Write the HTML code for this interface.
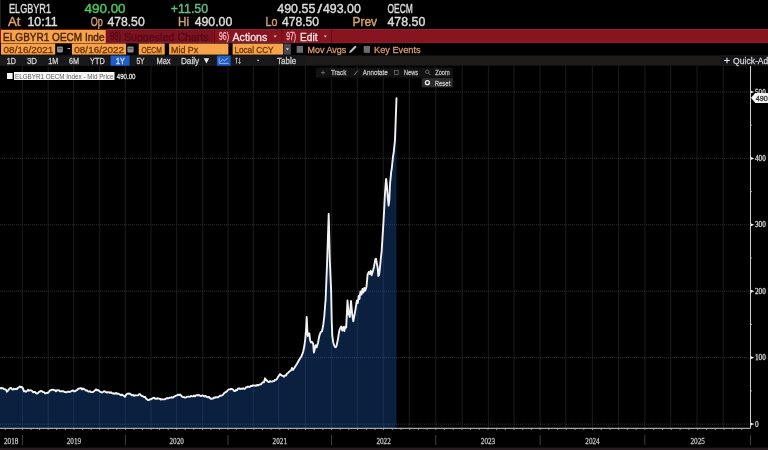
<!DOCTYPE html>
<html><head><meta charset="utf-8"><title>ELGBYR1 OECM Index</title>
<style>html,body{margin:0;padding:0;background:#000;width:768px;height:450px;overflow:hidden}svg{display:block}</style>
</head><body>
<svg width="768" height="450" viewBox="0 0 768 450">
<rect x="0" y="0" width="768" height="450" fill="#000"/>
<rect x="0" y="0" width="1" height="29" fill="#1e1e1e"/>
<text x="9.0" y="12.5" textLength="42.0" lengthAdjust="spacingAndGlyphs" fill="#dcdcdc" font-size="12.2" font-family="&quot;Liberation Sans&quot;, Arial, sans-serif" font-weight="normal" stroke="#dcdcdc" stroke-width="0.4">ELGBYR1</text>
<text x="84.5" y="12.5" textLength="41.1" lengthAdjust="spacingAndGlyphs" fill="#4cc85c" font-size="12.2" font-family="&quot;Liberation Sans&quot;, Arial, sans-serif" font-weight="normal" stroke="#4cc85c" stroke-width="0.4">490.00</text>
<text x="170.7" y="12.5" textLength="37.5" lengthAdjust="spacingAndGlyphs" fill="#5fbd7f" font-size="12.2" font-family="&quot;Liberation Sans&quot;, Arial, sans-serif" font-weight="normal" stroke="#5fbd7f" stroke-width="0.4">+11.50</text>
<text x="277.3" y="12.5" textLength="38.0" lengthAdjust="spacingAndGlyphs" fill="#dcdcdc" font-size="12.2" font-family="&quot;Liberation Sans&quot;, Arial, sans-serif" font-weight="normal" stroke="#dcdcdc" stroke-width="0.4">490.55</text>
<text x="317.4" y="12.5" textLength="4.6" lengthAdjust="spacingAndGlyphs" fill="#dcdcdc" font-size="12.2" font-family="&quot;Liberation Sans&quot;, Arial, sans-serif" font-weight="normal" stroke="#dcdcdc" stroke-width="0.4">/</text>
<text x="323.0" y="12.5" textLength="37.8" lengthAdjust="spacingAndGlyphs" fill="#dcdcdc" font-size="12.2" font-family="&quot;Liberation Sans&quot;, Arial, sans-serif" font-weight="normal" stroke="#dcdcdc" stroke-width="0.4">493.00</text>
<text x="387.5" y="12.5" textLength="25.4" lengthAdjust="spacingAndGlyphs" fill="#dcdcdc" font-size="12.2" font-family="&quot;Liberation Sans&quot;, Arial, sans-serif" font-weight="normal" stroke="#dcdcdc" stroke-width="0.4">OECM</text>
<text x="7.9" y="26.0" textLength="12.5" lengthAdjust="spacingAndGlyphs" fill="#d6a173" font-size="12.2" font-family="&quot;Liberation Sans&quot;, Arial, sans-serif" font-weight="normal" stroke="#d6a173" stroke-width="0.4">At</text>
<text x="27.5" y="26.0" textLength="30.0" lengthAdjust="spacingAndGlyphs" fill="#dcdcdc" font-size="12.2" font-family="&quot;Liberation Sans&quot;, Arial, sans-serif" font-weight="normal" stroke="#dcdcdc" stroke-width="0.4">10:11</text>
<text x="90.7" y="26.0" textLength="12.0" lengthAdjust="spacingAndGlyphs" fill="#d6a173" font-size="12.2" font-family="&quot;Liberation Sans&quot;, Arial, sans-serif" font-weight="normal" stroke="#d6a173" stroke-width="0.4">Op</text>
<text x="107.4" y="26.0" textLength="37.3" lengthAdjust="spacingAndGlyphs" fill="#dcdcdc" font-size="12.2" font-family="&quot;Liberation Sans&quot;, Arial, sans-serif" font-weight="normal" stroke="#dcdcdc" stroke-width="0.4">478.50</text>
<text x="178.0" y="26.0" textLength="11.0" lengthAdjust="spacingAndGlyphs" fill="#d6a173" font-size="12.2" font-family="&quot;Liberation Sans&quot;, Arial, sans-serif" font-weight="normal" stroke="#d6a173" stroke-width="0.4">Hi</text>
<text x="194.7" y="26.0" textLength="37.6" lengthAdjust="spacingAndGlyphs" fill="#dcdcdc" font-size="12.2" font-family="&quot;Liberation Sans&quot;, Arial, sans-serif" font-weight="normal" stroke="#dcdcdc" stroke-width="0.4">490.00</text>
<text x="265.6" y="26.0" textLength="11.9" lengthAdjust="spacingAndGlyphs" fill="#d6a173" font-size="12.2" font-family="&quot;Liberation Sans&quot;, Arial, sans-serif" font-weight="normal" stroke="#d6a173" stroke-width="0.4">Lo</text>
<text x="282.0" y="26.0" textLength="37.0" lengthAdjust="spacingAndGlyphs" fill="#dcdcdc" font-size="12.2" font-family="&quot;Liberation Sans&quot;, Arial, sans-serif" font-weight="normal" stroke="#dcdcdc" stroke-width="0.4">478.50</text>
<text x="352.4" y="26.0" textLength="24.7" lengthAdjust="spacingAndGlyphs" fill="#d6a173" font-size="12.2" font-family="&quot;Liberation Sans&quot;, Arial, sans-serif" font-weight="normal" stroke="#d6a173" stroke-width="0.4">Prev</text>
<text x="387.5" y="26.0" textLength="37.8" lengthAdjust="spacingAndGlyphs" fill="#dcdcdc" font-size="12.2" font-family="&quot;Liberation Sans&quot;, Arial, sans-serif" font-weight="normal" stroke="#dcdcdc" stroke-width="0.4">478.50</text>
<rect x="0" y="29.1" width="768" height="14.1" fill="#88141f"/>
<rect x="1" y="30" width="104.8" height="13.2" fill="#f6a44b"/>
<text x="3.1" y="40.6" textLength="101.4" lengthAdjust="spacingAndGlyphs" fill="#4e2204" font-size="11.6" font-family="&quot;Liberation Sans&quot;, Arial, sans-serif" font-weight="normal" stroke="#4e2204" stroke-width="0.45">ELGBYR1 OECM Inde</text>
<rect x="106.2" y="29.8" width="106" height="13.2" fill="#7c1320" stroke="#6a0e18" stroke-width="0.6"/>
<text x="110.0" y="40.4" textLength="11.0" lengthAdjust="spacingAndGlyphs" fill="#5a0a15" font-size="10" font-family="&quot;Liberation Sans&quot;, Arial, sans-serif" font-weight="normal" stroke="#5a0a15" stroke-width="0.45">98)</text>
<text x="124.0" y="40.6" textLength="84.5" lengthAdjust="spacingAndGlyphs" fill="#5a0a15" font-size="11.6" font-family="&quot;Liberation Sans&quot;, Arial, sans-serif" font-weight="normal" stroke="#5a0a15" stroke-width="0.45">Suggested Charts</text>
<rect x="106" y="41.8" width="662" height="1.1" fill="#7e2434"/>
<rect x="106" y="29.1" width="662" height="0.8" fill="#93283a"/>
<rect x="214" y="29.1" width="0.8" height="14.1" fill="#5a0c14"/>
<text x="219.0" y="40.2" textLength="10.0" lengthAdjust="spacingAndGlyphs" fill="#f2b8c0" font-size="10" font-family="&quot;Liberation Sans&quot;, Arial, sans-serif" font-weight="normal" stroke="#f2b8c0" stroke-width="0.3">96)</text>
<text x="232.5" y="40.6" textLength="34.8" lengthAdjust="spacingAndGlyphs" fill="#f6e6e8" font-size="11.6" font-family="&quot;Liberation Sans&quot;, Arial, sans-serif" font-weight="normal" stroke="#f6e6e8" stroke-width="0.3">Actions</text>
<path d="M273.6 35.4 L276.6 35.4 L275.1 37.4 Z" fill="#f0d0d4"/>
<rect x="281.5" y="29.1" width="0.8" height="14.1" fill="#5a0c14"/>
<text x="286.2" y="40.2" textLength="9.8" lengthAdjust="spacingAndGlyphs" fill="#f2b8c0" font-size="10" font-family="&quot;Liberation Sans&quot;, Arial, sans-serif" font-weight="normal" stroke="#f2b8c0" stroke-width="0.3">97)</text>
<text x="300.0" y="40.6" textLength="17.5" lengthAdjust="spacingAndGlyphs" fill="#f6e6e8" font-size="11.6" font-family="&quot;Liberation Sans&quot;, Arial, sans-serif" font-weight="normal" stroke="#f6e6e8" stroke-width="0.3">Edit</text>
<path d="M323.8 35.4 L326.8 35.4 L325.3 37.4 Z" fill="#f0d0d4"/>
<rect x="331" y="29.1" width="0.8" height="14.1" fill="#5a0c14"/>
<rect x="1" y="43.6" width="54.2" height="11" fill="#f6a44b"/>
<text x="3.6" y="52.8" textLength="49.7" lengthAdjust="spacingAndGlyphs" fill="#6e3300" font-size="9.4" font-family="&quot;Liberation Sans&quot;, Arial, sans-serif" font-weight="normal" stroke="#6e3300" stroke-width="0.3">08/16/2021</text>
<rect x="57" y="46.6" width="5.9" height="5.8" rx="0.8" fill="#8c8c90"/><rect x="58" y="48.4" width="3.9" height="0.8" fill="#333"/>
<text x="67.5" y="51.2" textLength="2.7" lengthAdjust="spacingAndGlyphs" fill="#cfcfcf" font-size="9.4" font-family="&quot;Liberation Sans&quot;, Arial, sans-serif" font-weight="normal" stroke="#cfcfcf" stroke-width="0.3">-</text>
<rect x="71.9" y="43.6" width="54.2" height="11" fill="#f6a44b"/>
<text x="74.3" y="52.8" textLength="49.8" lengthAdjust="spacingAndGlyphs" fill="#6e3300" font-size="9.4" font-family="&quot;Liberation Sans&quot;, Arial, sans-serif" font-weight="normal" stroke="#6e3300" stroke-width="0.3">08/16/2022</text>
<rect x="127.4" y="46.6" width="6.2" height="5.8" rx="0.8" fill="#8c8c90"/><rect x="128.4" y="48.4" width="4.2" height="0.8" fill="#333"/>
<rect x="138.7" y="43.6" width="26.0" height="11" fill="#f6a44b"/>
<text x="141.5" y="52.8" textLength="20.3" lengthAdjust="spacingAndGlyphs" fill="#6e3300" font-size="9.4" font-family="&quot;Liberation Sans&quot;, Arial, sans-serif" font-weight="normal" stroke="#6e3300" stroke-width="0.3">OECM</text>
<rect x="169.1" y="43.6" width="59.3" height="11" fill="#f6a44b"/>
<text x="171.0" y="52.8" textLength="27.3" lengthAdjust="spacingAndGlyphs" fill="#6e3300" font-size="9.4" font-family="&quot;Liberation Sans&quot;, Arial, sans-serif" font-weight="normal" stroke="#6e3300" stroke-width="0.3">Mid Px</text>
<rect x="232.6" y="43.6" width="50.6" height="11" fill="#f6a44b"/>
<text x="234.4" y="52.8" textLength="39.2" lengthAdjust="spacingAndGlyphs" fill="#6e3300" font-size="9.4" font-family="&quot;Liberation Sans&quot;, Arial, sans-serif" font-weight="normal" stroke="#6e3300" stroke-width="0.3">Local CCY</text>
<rect x="284" y="43.6" width="6.9" height="11" fill="#4a4a4e"/><path d="M285.9 48.2 L289 48.2 L287.45 50.3 Z" fill="#e0e0e0"/>
<rect x="296.7" y="45.9" width="6.3" height="6.9" fill="#6c6c70"/>
<text x="307.6" y="52.8" textLength="38.7" lengthAdjust="spacingAndGlyphs" fill="#de9a6c" font-size="9.4" font-family="&quot;Liberation Sans&quot;, Arial, sans-serif" font-weight="normal" stroke="#de9a6c" stroke-width="0.3">Mov Avgs</text>
<path d="M349 53.2 L350 50.8 L355.2 45.6 L356.6 47 L351.4 52.2 Z" fill="#c4c4c4"/>
<rect x="363.7" y="45.9" width="6.3" height="6.9" fill="#6c6c70"/>
<text x="374.1" y="52.8" textLength="46.5" lengthAdjust="spacingAndGlyphs" fill="#de9a6c" font-size="9.4" font-family="&quot;Liberation Sans&quot;, Arial, sans-serif" font-weight="normal" stroke="#de9a6c" stroke-width="0.3">Key Events</text>
<rect x="0" y="55.5" width="768" height="10.1" fill="#1e1c1b"/>
<rect x="0" y="55.5" width="306" height="10.1" fill="#19191b"/>
<text x="6.8" y="63.9" textLength="9.2" lengthAdjust="spacingAndGlyphs" fill="#cfcfd2" font-size="8.6" font-family="&quot;Liberation Sans&quot;, Arial, sans-serif" font-weight="normal" stroke="#cfcfd2" stroke-width="0.3">1D</text>
<text x="26.9" y="63.9" textLength="10.0" lengthAdjust="spacingAndGlyphs" fill="#cfcfd2" font-size="8.6" font-family="&quot;Liberation Sans&quot;, Arial, sans-serif" font-weight="normal" stroke="#cfcfd2" stroke-width="0.3">3D</text>
<text x="48.3" y="63.9" textLength="10.0" lengthAdjust="spacingAndGlyphs" fill="#cfcfd2" font-size="8.6" font-family="&quot;Liberation Sans&quot;, Arial, sans-serif" font-weight="normal" stroke="#cfcfd2" stroke-width="0.3">1M</text>
<text x="69.1" y="63.9" textLength="10.0" lengthAdjust="spacingAndGlyphs" fill="#cfcfd2" font-size="8.6" font-family="&quot;Liberation Sans&quot;, Arial, sans-serif" font-weight="normal" stroke="#cfcfd2" stroke-width="0.3">6M</text>
<text x="90.1" y="63.9" textLength="14.6" lengthAdjust="spacingAndGlyphs" fill="#cfcfd2" font-size="8.6" font-family="&quot;Liberation Sans&quot;, Arial, sans-serif" font-weight="normal" stroke="#cfcfd2" stroke-width="0.3">YTD</text>
<rect x="110.6" y="55.6" width="19" height="10.1" fill="#1f5cc6"/>
<text x="116.0" y="63.9" textLength="8.7" lengthAdjust="spacingAndGlyphs" fill="#d8e6ff" font-size="8.6" font-family="&quot;Liberation Sans&quot;, Arial, sans-serif" font-weight="normal" stroke="#d8e6ff" stroke-width="0.3">1Y</text>
<text x="136.4" y="63.9" textLength="8.2" lengthAdjust="spacingAndGlyphs" fill="#cfcfd2" font-size="8.6" font-family="&quot;Liberation Sans&quot;, Arial, sans-serif" font-weight="normal" stroke="#cfcfd2" stroke-width="0.3">5Y</text>
<text x="156.4" y="63.9" textLength="14.2" lengthAdjust="spacingAndGlyphs" fill="#cfcfd2" font-size="8.6" font-family="&quot;Liberation Sans&quot;, Arial, sans-serif" font-weight="normal" stroke="#cfcfd2" stroke-width="0.3">Max</text>
<text x="180.9" y="63.9" textLength="18.3" lengthAdjust="spacingAndGlyphs" fill="#cfcfd2" font-size="8.6" font-family="&quot;Liberation Sans&quot;, Arial, sans-serif" font-weight="normal" stroke="#cfcfd2" stroke-width="0.3">Daily</text>
<path d="M203.7 58.3 L209.2 58.3 L206.45 63.4 Z" fill="#e8e8e8"/>
<rect x="216.9" y="55.6" width="13.7" height="10.1" fill="#1f5cc6"/>
<path d="M219.2 57.6 L219.2 63.4 L228.6 63.4" fill="none" stroke="#a9c8ff" stroke-width="0.8"/><path d="M220.3 62 L222.6 59.4 L224.6 61 L227.8 57.8" fill="none" stroke="#a9c8ff" stroke-width="0.9"/>
<path d="M236.5 57.8 L236.5 63.6 M235.2 59.2 L236.5 57.8 L237.8 59.2 M239.6 57.8 L239.6 63.6 M238.3 62.2 L239.6 63.6 L240.9 62.2" fill="none" stroke="#c8c8cc" stroke-width="0.8"/>
<path d="M256.8 59.8 L259.4 59.8 L258.1 61.4 Z" fill="#d0d0d0"/>
<text x="277.1" y="63.9" textLength="19.2" lengthAdjust="spacingAndGlyphs" fill="#cfcfd2" font-size="8.6" font-family="&quot;Liberation Sans&quot;, Arial, sans-serif" font-weight="normal" stroke="#cfcfd2" stroke-width="0.3">Table</text>
<rect x="720" y="55.5" width="48" height="10.1" fill="#17171a"/>
<path d="M724.2 60.5 L729.8 60.5 M727 57.7 L727 63.3" stroke="#e6e6e6" stroke-width="1.1"/>
<text x="733.1" y="63.9" textLength="39.9" lengthAdjust="spacingAndGlyphs" fill="#cfcfd2" font-size="8.6" font-family="&quot;Liberation Sans&quot;, Arial, sans-serif" font-weight="normal" stroke="#cfcfd2" stroke-width="0.3">Quick-Add</text>
<line x1="22.4" y1="66" x2="22.4" y2="428.3" stroke="#171717" stroke-width="1.2"/>
<line x1="48.2" y1="66" x2="48.2" y2="428.3" stroke="#171717" stroke-width="1.2"/>
<line x1="73.6" y1="66" x2="73.6" y2="428.3" stroke="#171717" stroke-width="1.2"/>
<line x1="99.5" y1="66" x2="99.5" y2="428.3" stroke="#171717" stroke-width="1.2"/>
<line x1="125.4" y1="66" x2="125.4" y2="428.3" stroke="#171717" stroke-width="1.2"/>
<line x1="151" y1="66" x2="151" y2="428.3" stroke="#171717" stroke-width="1.2"/>
<line x1="176.6" y1="66" x2="176.6" y2="428.3" stroke="#171717" stroke-width="1.2"/>
<line x1="202.6" y1="66" x2="202.6" y2="428.3" stroke="#171717" stroke-width="1.2"/>
<line x1="228" y1="66" x2="228" y2="428.3" stroke="#171717" stroke-width="1.2"/>
<line x1="253.4" y1="66" x2="253.4" y2="428.3" stroke="#171717" stroke-width="1.2"/>
<line x1="278.8" y1="66" x2="278.8" y2="428.3" stroke="#171717" stroke-width="1.2"/>
<line x1="305.5" y1="66" x2="305.5" y2="428.3" stroke="#171717" stroke-width="1.2"/>
<line x1="331.5" y1="66" x2="331.5" y2="428.3" stroke="#171717" stroke-width="1.2"/>
<line x1="357.3" y1="66" x2="357.3" y2="428.3" stroke="#171717" stroke-width="1.2"/>
<line x1="383.3" y1="66" x2="383.3" y2="428.3" stroke="#171717" stroke-width="1.2"/>
<line x1="409.4" y1="66" x2="409.4" y2="428.3" stroke="#171717" stroke-width="1.2"/>
<line x1="435.8" y1="66" x2="435.8" y2="428.3" stroke="#171717" stroke-width="1.2"/>
<line x1="462.2" y1="66" x2="462.2" y2="428.3" stroke="#171717" stroke-width="1.2"/>
<line x1="488.5" y1="66" x2="488.5" y2="428.3" stroke="#171717" stroke-width="1.2"/>
<line x1="514.1" y1="66" x2="514.1" y2="428.3" stroke="#171717" stroke-width="1.2"/>
<line x1="540.1" y1="66" x2="540.1" y2="428.3" stroke="#171717" stroke-width="1.2"/>
<line x1="565.8" y1="66" x2="565.8" y2="428.3" stroke="#171717" stroke-width="1.2"/>
<line x1="592.4" y1="66" x2="592.4" y2="428.3" stroke="#171717" stroke-width="1.2"/>
<line x1="618.5" y1="66" x2="618.5" y2="428.3" stroke="#171717" stroke-width="1.2"/>
<line x1="644.9" y1="66" x2="644.9" y2="428.3" stroke="#171717" stroke-width="1.2"/>
<line x1="670.6" y1="66" x2="670.6" y2="428.3" stroke="#171717" stroke-width="1.2"/>
<line x1="697" y1="66" x2="697" y2="428.3" stroke="#171717" stroke-width="1.2"/>
<line x1="723.2" y1="66" x2="723.2" y2="428.3" stroke="#171717" stroke-width="1.2"/>
<line x1="0" y1="92.0" x2="750.5" y2="92.0" stroke="#303030" stroke-width="1" stroke-dasharray="1 1"/>
<line x1="0" y1="158.4" x2="750.5" y2="158.4" stroke="#303030" stroke-width="1" stroke-dasharray="1 1"/>
<line x1="0" y1="224.8" x2="750.5" y2="224.8" stroke="#303030" stroke-width="1" stroke-dasharray="1 1"/>
<line x1="0" y1="291.2" x2="750.5" y2="291.2" stroke="#303030" stroke-width="1" stroke-dasharray="1 1"/>
<line x1="0" y1="357.7" x2="750.5" y2="357.7" stroke="#303030" stroke-width="1" stroke-dasharray="1 1"/>
<line x1="0" y1="424.1" x2="750.5" y2="424.1" stroke="#303030" stroke-width="1" stroke-dasharray="1 1"/>
<polygon points="0,428.3 0.0,388.2 1.0,388.0 2.0,388.3 3.0,388.1 4.0,389.1 5.0,389.2 6.0,389.8 7.0,391.7 8.0,390.6 9.0,389.2 10.0,388.2 11.0,388.0 12.0,389.1 13.0,389.6 14.0,388.8 15.0,389.3 16.0,388.7 17.0,389.2 18.0,387.7 19.0,387.3 20.0,386.5 21.0,387.2 22.0,387.0 23.0,388.6 24.0,391.3 25.0,391.1 26.0,391.7 27.0,390.9 28.0,389.8 29.0,390.7 30.0,390.3 31.0,390.4 32.0,390.8 33.0,392.2 34.0,392.0 35.0,391.9 36.0,393.2 37.0,393.6 38.0,393.0 39.0,391.8 40.0,391.3 41.0,391.0 42.0,391.2 43.0,392.0 44.0,392.1 45.0,393.3 46.0,393.3 47.0,392.7 48.0,393.0 49.0,391.8 50.0,390.4 51.0,390.3 52.0,389.7 53.0,389.6 54.0,390.2 55.0,390.1 56.0,391.3 57.0,390.2 58.0,390.4 59.0,390.3 60.0,391.3 61.0,391.3 62.0,391.3 63.0,391.2 64.0,391.6 65.0,392.1 66.0,392.3 67.0,392.0 68.0,391.6 69.0,391.7 70.0,391.8 71.0,391.3 72.0,390.7 73.0,390.5 74.0,391.2 75.0,391.3 76.0,390.5 77.0,390.2 78.0,388.8 79.0,388.8 80.0,388.2 81.0,388.1 82.0,389.4 83.0,388.4 84.0,389.2 85.0,389.6 86.0,390.6 87.0,390.3 88.0,391.3 89.0,391.6 90.0,391.1 91.0,392.1 92.0,392.1 93.0,392.0 94.0,391.3 95.0,390.4 96.0,389.3 97.0,390.4 98.0,390.0 99.0,390.8 100.0,391.7 101.0,392.1 102.0,392.5 103.0,392.0 104.0,391.3 105.0,391.4 106.0,392.2 107.0,392.6 108.0,392.1 109.0,392.3 110.0,392.9 111.0,392.3 112.0,393.2 113.0,393.5 114.0,393.3 115.0,393.8 116.0,393.0 117.0,393.9 118.0,393.5 119.0,394.0 120.0,394.6 121.0,395.2 122.0,394.5 123.0,395.4 124.0,395.8 125.0,396.8 126.0,394.8 127.0,393.8 128.0,393.8 129.0,393.5 130.0,393.7 131.0,394.6 132.0,395.4 133.0,394.8 134.0,395.8 135.0,395.3 136.0,395.4 137.0,395.4 138.0,395.4 139.0,394.3 140.0,394.2 141.0,395.4 142.0,396.0 143.0,396.3 144.0,397.1 145.0,396.8 146.0,398.5 147.0,399.2 148.0,400.1 149.0,400.0 150.0,399.3 151.0,399.2 152.0,398.6 153.0,398.0 154.0,397.7 155.0,398.5 156.0,398.9 157.0,398.5 158.0,398.3 159.0,398.6 160.0,398.9 161.0,399.6 162.0,399.1 163.0,399.4 164.0,399.4 165.0,399.2 166.0,398.6 167.0,398.0 168.0,398.5 169.0,398.0 170.0,397.6 171.0,397.5 172.0,397.3 173.0,397.6 174.0,396.8 175.0,396.2 176.0,395.7 177.0,395.3 178.0,394.6 179.0,395.1 180.0,394.5 181.0,395.4 182.0,396.6 183.0,397.0 184.0,397.1 185.0,397.6 186.0,397.3 187.0,396.8 188.0,396.6 189.0,396.6 190.0,396.8 191.0,395.9 192.0,396.2 193.0,396.4 194.0,395.6 195.0,396.3 196.0,395.3 197.0,395.1 198.0,395.2 199.0,395.0 200.0,395.6 201.0,396.1 202.0,395.5 203.0,395.5 204.0,396.3 205.0,396.0 206.0,396.2 207.0,397.0 208.0,397.2 209.0,397.0 210.0,398.1 211.0,398.9 212.0,398.6 213.0,398.5 214.0,397.5 215.0,397.7 216.0,397.2 217.0,397.1 218.0,397.2 219.0,396.5 220.0,395.6 221.0,395.7 222.0,395.4 223.0,394.8 224.0,393.3 225.0,392.5 226.0,391.9 227.0,391.2 228.0,390.0 229.0,389.4 230.0,389.4 231.0,389.0 232.0,389.0 233.0,389.5 234.0,390.8 235.0,391.1 236.0,390.0 237.0,390.3 238.0,388.6 239.0,388.3 240.0,389.1 241.0,388.7 242.0,388.8 243.0,388.3 244.0,388.9 245.0,388.8 246.0,387.3 247.0,387.3 248.0,386.5 249.0,387.0 250.0,386.6 251.0,385.9 252.0,386.1 253.0,385.3 254.0,385.6 255.0,385.5 256.0,385.7 257.0,384.9 258.0,385.5 259.0,384.8 260.0,384.4 261.0,384.3 262.0,383.0 263.0,382.3 264.0,382.2 265.0,378.3 266.0,379.9 267.0,380.6 268.0,381.7 269.0,382.1 270.0,381.1 271.0,381.6 272.0,381.6 273.0,381.1 274.0,381.0 275.0,380.0 276.0,379.8 277.0,378.9 278.0,376.8 279.0,375.6 280.0,374.1 281.0,374.9 282.0,375.6 283.0,375.9 284.0,376.7 285.0,375.4 286.0,375.5 287.0,373.5 288.0,373.0 289.0,371.8 290.0,371.0 291.0,370.5 292.0,368.0 293.0,369.9 294.6,367.5 297.0,363.7 299.2,359.8 301.6,355.9 303.1,352.0 304.4,345.8 305.4,338.0 306.2,327.1 306.7,317.0 307.3,330.2 307.8,336.0 308.6,334.0 309.3,333.3 310.1,340.0 310.9,342.5 312.1,341.9 313.2,344.0 313.9,352.5 314.8,349.0 315.6,345.3 316.7,347.3 318.0,342.7 319.3,336.0 320.7,332.0 322.0,331.3 323.3,324.7 324.3,316.0 325.0,306.7 325.6,300.0 327.1,262.8 328.7,213.9 329.8,260.0 331.1,290.0 331.7,320.0 332.3,336.0 333.3,342.7 334.7,346.7 335.7,347.3 336.7,345.3 338.0,338.7 339.3,330.7 340.0,328.7 341.2,326.5 342.2,330.5 343.3,327.0 344.3,331.0 345.3,326.5 346.2,327.5 347.5,300.5 348.5,313.3 349.8,316.9 351.0,301.0 352.1,313.3 353.3,321.3 355.1,311.6 356.9,300.5 357.8,303.0 358.7,296.0 359.5,299.0 360.4,291.5 361.5,294.5 362.5,289.0 363.4,292.5 364.4,288.0 365.3,290.5 366.5,286.7 367.6,274.7 368.7,272.0 369.7,274.0 370.7,270.7 371.6,275.3 372.7,272.0 374.0,266.7 375.3,259.3 376.0,258.7 376.7,262.7 377.7,268.0 378.3,276.0 379.1,274.7 379.6,270.7 380.7,260.0 381.7,250.7 382.5,237.6 383.4,223.3 384.1,210.9 385.0,193.1 385.7,183.3 386.1,178.9 386.8,184.2 387.7,196.7 388.6,205.6 389.3,200.2 390.0,184.2 390.7,177.1 391.2,171.8 391.8,168.3 392.3,163.3 393.0,156.7 393.7,152.5 394.3,146.7 395.0,140.0 395.7,120.0 396.5,98.3 396.5,428.3" fill="#0b1f3f"/>
<defs><clipPath id="fc"><polygon points="0,428.3 0.0,388.2 1.0,388.0 2.0,388.3 3.0,388.1 4.0,389.1 5.0,389.2 6.0,389.8 7.0,391.7 8.0,390.6 9.0,389.2 10.0,388.2 11.0,388.0 12.0,389.1 13.0,389.6 14.0,388.8 15.0,389.3 16.0,388.7 17.0,389.2 18.0,387.7 19.0,387.3 20.0,386.5 21.0,387.2 22.0,387.0 23.0,388.6 24.0,391.3 25.0,391.1 26.0,391.7 27.0,390.9 28.0,389.8 29.0,390.7 30.0,390.3 31.0,390.4 32.0,390.8 33.0,392.2 34.0,392.0 35.0,391.9 36.0,393.2 37.0,393.6 38.0,393.0 39.0,391.8 40.0,391.3 41.0,391.0 42.0,391.2 43.0,392.0 44.0,392.1 45.0,393.3 46.0,393.3 47.0,392.7 48.0,393.0 49.0,391.8 50.0,390.4 51.0,390.3 52.0,389.7 53.0,389.6 54.0,390.2 55.0,390.1 56.0,391.3 57.0,390.2 58.0,390.4 59.0,390.3 60.0,391.3 61.0,391.3 62.0,391.3 63.0,391.2 64.0,391.6 65.0,392.1 66.0,392.3 67.0,392.0 68.0,391.6 69.0,391.7 70.0,391.8 71.0,391.3 72.0,390.7 73.0,390.5 74.0,391.2 75.0,391.3 76.0,390.5 77.0,390.2 78.0,388.8 79.0,388.8 80.0,388.2 81.0,388.1 82.0,389.4 83.0,388.4 84.0,389.2 85.0,389.6 86.0,390.6 87.0,390.3 88.0,391.3 89.0,391.6 90.0,391.1 91.0,392.1 92.0,392.1 93.0,392.0 94.0,391.3 95.0,390.4 96.0,389.3 97.0,390.4 98.0,390.0 99.0,390.8 100.0,391.7 101.0,392.1 102.0,392.5 103.0,392.0 104.0,391.3 105.0,391.4 106.0,392.2 107.0,392.6 108.0,392.1 109.0,392.3 110.0,392.9 111.0,392.3 112.0,393.2 113.0,393.5 114.0,393.3 115.0,393.8 116.0,393.0 117.0,393.9 118.0,393.5 119.0,394.0 120.0,394.6 121.0,395.2 122.0,394.5 123.0,395.4 124.0,395.8 125.0,396.8 126.0,394.8 127.0,393.8 128.0,393.8 129.0,393.5 130.0,393.7 131.0,394.6 132.0,395.4 133.0,394.8 134.0,395.8 135.0,395.3 136.0,395.4 137.0,395.4 138.0,395.4 139.0,394.3 140.0,394.2 141.0,395.4 142.0,396.0 143.0,396.3 144.0,397.1 145.0,396.8 146.0,398.5 147.0,399.2 148.0,400.1 149.0,400.0 150.0,399.3 151.0,399.2 152.0,398.6 153.0,398.0 154.0,397.7 155.0,398.5 156.0,398.9 157.0,398.5 158.0,398.3 159.0,398.6 160.0,398.9 161.0,399.6 162.0,399.1 163.0,399.4 164.0,399.4 165.0,399.2 166.0,398.6 167.0,398.0 168.0,398.5 169.0,398.0 170.0,397.6 171.0,397.5 172.0,397.3 173.0,397.6 174.0,396.8 175.0,396.2 176.0,395.7 177.0,395.3 178.0,394.6 179.0,395.1 180.0,394.5 181.0,395.4 182.0,396.6 183.0,397.0 184.0,397.1 185.0,397.6 186.0,397.3 187.0,396.8 188.0,396.6 189.0,396.6 190.0,396.8 191.0,395.9 192.0,396.2 193.0,396.4 194.0,395.6 195.0,396.3 196.0,395.3 197.0,395.1 198.0,395.2 199.0,395.0 200.0,395.6 201.0,396.1 202.0,395.5 203.0,395.5 204.0,396.3 205.0,396.0 206.0,396.2 207.0,397.0 208.0,397.2 209.0,397.0 210.0,398.1 211.0,398.9 212.0,398.6 213.0,398.5 214.0,397.5 215.0,397.7 216.0,397.2 217.0,397.1 218.0,397.2 219.0,396.5 220.0,395.6 221.0,395.7 222.0,395.4 223.0,394.8 224.0,393.3 225.0,392.5 226.0,391.9 227.0,391.2 228.0,390.0 229.0,389.4 230.0,389.4 231.0,389.0 232.0,389.0 233.0,389.5 234.0,390.8 235.0,391.1 236.0,390.0 237.0,390.3 238.0,388.6 239.0,388.3 240.0,389.1 241.0,388.7 242.0,388.8 243.0,388.3 244.0,388.9 245.0,388.8 246.0,387.3 247.0,387.3 248.0,386.5 249.0,387.0 250.0,386.6 251.0,385.9 252.0,386.1 253.0,385.3 254.0,385.6 255.0,385.5 256.0,385.7 257.0,384.9 258.0,385.5 259.0,384.8 260.0,384.4 261.0,384.3 262.0,383.0 263.0,382.3 264.0,382.2 265.0,378.3 266.0,379.9 267.0,380.6 268.0,381.7 269.0,382.1 270.0,381.1 271.0,381.6 272.0,381.6 273.0,381.1 274.0,381.0 275.0,380.0 276.0,379.8 277.0,378.9 278.0,376.8 279.0,375.6 280.0,374.1 281.0,374.9 282.0,375.6 283.0,375.9 284.0,376.7 285.0,375.4 286.0,375.5 287.0,373.5 288.0,373.0 289.0,371.8 290.0,371.0 291.0,370.5 292.0,368.0 293.0,369.9 294.6,367.5 297.0,363.7 299.2,359.8 301.6,355.9 303.1,352.0 304.4,345.8 305.4,338.0 306.2,327.1 306.7,317.0 307.3,330.2 307.8,336.0 308.6,334.0 309.3,333.3 310.1,340.0 310.9,342.5 312.1,341.9 313.2,344.0 313.9,352.5 314.8,349.0 315.6,345.3 316.7,347.3 318.0,342.7 319.3,336.0 320.7,332.0 322.0,331.3 323.3,324.7 324.3,316.0 325.0,306.7 325.6,300.0 327.1,262.8 328.7,213.9 329.8,260.0 331.1,290.0 331.7,320.0 332.3,336.0 333.3,342.7 334.7,346.7 335.7,347.3 336.7,345.3 338.0,338.7 339.3,330.7 340.0,328.7 341.2,326.5 342.2,330.5 343.3,327.0 344.3,331.0 345.3,326.5 346.2,327.5 347.5,300.5 348.5,313.3 349.8,316.9 351.0,301.0 352.1,313.3 353.3,321.3 355.1,311.6 356.9,300.5 357.8,303.0 358.7,296.0 359.5,299.0 360.4,291.5 361.5,294.5 362.5,289.0 363.4,292.5 364.4,288.0 365.3,290.5 366.5,286.7 367.6,274.7 368.7,272.0 369.7,274.0 370.7,270.7 371.6,275.3 372.7,272.0 374.0,266.7 375.3,259.3 376.0,258.7 376.7,262.7 377.7,268.0 378.3,276.0 379.1,274.7 379.6,270.7 380.7,260.0 381.7,250.7 382.5,237.6 383.4,223.3 384.1,210.9 385.0,193.1 385.7,183.3 386.1,178.9 386.8,184.2 387.7,196.7 388.6,205.6 389.3,200.2 390.0,184.2 390.7,177.1 391.2,171.8 391.8,168.3 392.3,163.3 393.0,156.7 393.7,152.5 394.3,146.7 395.0,140.0 395.7,120.0 396.5,98.3 396.5,428.3"/></clipPath></defs>
<g clip-path="url(#fc)">
<line x1="22.4" y1="90" x2="22.4" y2="428.3" stroke="#18304f" stroke-width="1.1"/>
<line x1="48.2" y1="90" x2="48.2" y2="428.3" stroke="#18304f" stroke-width="1.1"/>
<line x1="73.6" y1="90" x2="73.6" y2="428.3" stroke="#18304f" stroke-width="1.1"/>
<line x1="99.5" y1="90" x2="99.5" y2="428.3" stroke="#18304f" stroke-width="1.1"/>
<line x1="125.4" y1="90" x2="125.4" y2="428.3" stroke="#18304f" stroke-width="1.1"/>
<line x1="151" y1="90" x2="151" y2="428.3" stroke="#18304f" stroke-width="1.1"/>
<line x1="176.6" y1="90" x2="176.6" y2="428.3" stroke="#18304f" stroke-width="1.1"/>
<line x1="202.6" y1="90" x2="202.6" y2="428.3" stroke="#18304f" stroke-width="1.1"/>
<line x1="228" y1="90" x2="228" y2="428.3" stroke="#18304f" stroke-width="1.1"/>
<line x1="253.4" y1="90" x2="253.4" y2="428.3" stroke="#18304f" stroke-width="1.1"/>
<line x1="278.8" y1="90" x2="278.8" y2="428.3" stroke="#18304f" stroke-width="1.1"/>
<line x1="305.5" y1="90" x2="305.5" y2="428.3" stroke="#18304f" stroke-width="1.1"/>
<line x1="331.5" y1="90" x2="331.5" y2="428.3" stroke="#18304f" stroke-width="1.1"/>
<line x1="357.3" y1="90" x2="357.3" y2="428.3" stroke="#18304f" stroke-width="1.1"/>
<line x1="383.3" y1="90" x2="383.3" y2="428.3" stroke="#18304f" stroke-width="1.1"/>
<line x1="0" y1="158.4" x2="750.5" y2="158.4" stroke="#2b4266" stroke-width="1" stroke-dasharray="1 1"/>
<line x1="0" y1="224.8" x2="750.5" y2="224.8" stroke="#2b4266" stroke-width="1" stroke-dasharray="1 1"/>
<line x1="0" y1="291.2" x2="750.5" y2="291.2" stroke="#2b4266" stroke-width="1" stroke-dasharray="1 1"/>
<line x1="0" y1="357.7" x2="750.5" y2="357.7" stroke="#2b4266" stroke-width="1" stroke-dasharray="1 1"/>
<line x1="0" y1="424.1" x2="750.5" y2="424.1" stroke="#2b4266" stroke-width="1" stroke-dasharray="1 1"/>
</g>
<polyline points="0.0,388.2 1.0,388.0 2.0,388.3 3.0,388.1 4.0,389.1 5.0,389.2 6.0,389.8 7.0,391.7 8.0,390.6 9.0,389.2 10.0,388.2 11.0,388.0 12.0,389.1 13.0,389.6 14.0,388.8 15.0,389.3 16.0,388.7 17.0,389.2 18.0,387.7 19.0,387.3 20.0,386.5 21.0,387.2 22.0,387.0 23.0,388.6 24.0,391.3 25.0,391.1 26.0,391.7 27.0,390.9 28.0,389.8 29.0,390.7 30.0,390.3 31.0,390.4 32.0,390.8 33.0,392.2 34.0,392.0 35.0,391.9 36.0,393.2 37.0,393.6 38.0,393.0 39.0,391.8 40.0,391.3 41.0,391.0 42.0,391.2 43.0,392.0 44.0,392.1 45.0,393.3 46.0,393.3 47.0,392.7 48.0,393.0 49.0,391.8 50.0,390.4 51.0,390.3 52.0,389.7 53.0,389.6 54.0,390.2 55.0,390.1 56.0,391.3 57.0,390.2 58.0,390.4 59.0,390.3 60.0,391.3 61.0,391.3 62.0,391.3 63.0,391.2 64.0,391.6 65.0,392.1 66.0,392.3 67.0,392.0 68.0,391.6 69.0,391.7 70.0,391.8 71.0,391.3 72.0,390.7 73.0,390.5 74.0,391.2 75.0,391.3 76.0,390.5 77.0,390.2 78.0,388.8 79.0,388.8 80.0,388.2 81.0,388.1 82.0,389.4 83.0,388.4 84.0,389.2 85.0,389.6 86.0,390.6 87.0,390.3 88.0,391.3 89.0,391.6 90.0,391.1 91.0,392.1 92.0,392.1 93.0,392.0 94.0,391.3 95.0,390.4 96.0,389.3 97.0,390.4 98.0,390.0 99.0,390.8 100.0,391.7 101.0,392.1 102.0,392.5 103.0,392.0 104.0,391.3 105.0,391.4 106.0,392.2 107.0,392.6 108.0,392.1 109.0,392.3 110.0,392.9 111.0,392.3 112.0,393.2 113.0,393.5 114.0,393.3 115.0,393.8 116.0,393.0 117.0,393.9 118.0,393.5 119.0,394.0 120.0,394.6 121.0,395.2 122.0,394.5 123.0,395.4 124.0,395.8 125.0,396.8 126.0,394.8 127.0,393.8 128.0,393.8 129.0,393.5 130.0,393.7 131.0,394.6 132.0,395.4 133.0,394.8 134.0,395.8 135.0,395.3 136.0,395.4 137.0,395.4 138.0,395.4 139.0,394.3 140.0,394.2 141.0,395.4 142.0,396.0 143.0,396.3 144.0,397.1 145.0,396.8 146.0,398.5 147.0,399.2 148.0,400.1 149.0,400.0 150.0,399.3 151.0,399.2 152.0,398.6 153.0,398.0 154.0,397.7 155.0,398.5 156.0,398.9 157.0,398.5 158.0,398.3 159.0,398.6 160.0,398.9 161.0,399.6 162.0,399.1 163.0,399.4 164.0,399.4 165.0,399.2 166.0,398.6 167.0,398.0 168.0,398.5 169.0,398.0 170.0,397.6 171.0,397.5 172.0,397.3 173.0,397.6 174.0,396.8 175.0,396.2 176.0,395.7 177.0,395.3 178.0,394.6 179.0,395.1 180.0,394.5 181.0,395.4 182.0,396.6 183.0,397.0 184.0,397.1 185.0,397.6 186.0,397.3 187.0,396.8 188.0,396.6 189.0,396.6 190.0,396.8 191.0,395.9 192.0,396.2 193.0,396.4 194.0,395.6 195.0,396.3 196.0,395.3 197.0,395.1 198.0,395.2 199.0,395.0 200.0,395.6 201.0,396.1 202.0,395.5 203.0,395.5 204.0,396.3 205.0,396.0 206.0,396.2 207.0,397.0 208.0,397.2 209.0,397.0 210.0,398.1 211.0,398.9 212.0,398.6 213.0,398.5 214.0,397.5 215.0,397.7 216.0,397.2 217.0,397.1 218.0,397.2 219.0,396.5 220.0,395.6 221.0,395.7 222.0,395.4 223.0,394.8 224.0,393.3 225.0,392.5 226.0,391.9 227.0,391.2 228.0,390.0 229.0,389.4 230.0,389.4 231.0,389.0 232.0,389.0 233.0,389.5 234.0,390.8 235.0,391.1 236.0,390.0 237.0,390.3 238.0,388.6 239.0,388.3 240.0,389.1 241.0,388.7 242.0,388.8 243.0,388.3 244.0,388.9 245.0,388.8 246.0,387.3 247.0,387.3 248.0,386.5 249.0,387.0 250.0,386.6 251.0,385.9 252.0,386.1 253.0,385.3 254.0,385.6 255.0,385.5 256.0,385.7 257.0,384.9 258.0,385.5 259.0,384.8 260.0,384.4 261.0,384.3 262.0,383.0 263.0,382.3 264.0,382.2 265.0,378.3 266.0,379.9 267.0,380.6 268.0,381.7 269.0,382.1 270.0,381.1 271.0,381.6 272.0,381.6 273.0,381.1 274.0,381.0 275.0,380.0 276.0,379.8 277.0,378.9 278.0,376.8 279.0,375.6 280.0,374.1 281.0,374.9 282.0,375.6 283.0,375.9 284.0,376.7 285.0,375.4 286.0,375.5 287.0,373.5 288.0,373.0 289.0,371.8 290.0,371.0 291.0,370.5 292.0,368.0 293.0,369.9 294.6,367.5 297.0,363.7 299.2,359.8 301.6,355.9 303.1,352.0 304.4,345.8 305.4,338.0 306.2,327.1 306.7,317.0 307.3,330.2 307.8,336.0 308.6,334.0 309.3,333.3 310.1,340.0 310.9,342.5 312.1,341.9 313.2,344.0 313.9,352.5 314.8,349.0 315.6,345.3 316.7,347.3 318.0,342.7 319.3,336.0 320.7,332.0 322.0,331.3 323.3,324.7 324.3,316.0 325.0,306.7 325.6,300.0 327.1,262.8 328.7,213.9 329.8,260.0 331.1,290.0 331.7,320.0 332.3,336.0 333.3,342.7 334.7,346.7 335.7,347.3 336.7,345.3 338.0,338.7 339.3,330.7 340.0,328.7 341.2,326.5 342.2,330.5 343.3,327.0 344.3,331.0 345.3,326.5 346.2,327.5 347.5,300.5 348.5,313.3 349.8,316.9 351.0,301.0 352.1,313.3 353.3,321.3 355.1,311.6 356.9,300.5 357.8,303.0 358.7,296.0 359.5,299.0 360.4,291.5 361.5,294.5 362.5,289.0 363.4,292.5 364.4,288.0 365.3,290.5 366.5,286.7 367.6,274.7 368.7,272.0 369.7,274.0 370.7,270.7 371.6,275.3 372.7,272.0 374.0,266.7 375.3,259.3 376.0,258.7 376.7,262.7 377.7,268.0 378.3,276.0 379.1,274.7 379.6,270.7 380.7,260.0 381.7,250.7 382.5,237.6 383.4,223.3 384.1,210.9 385.0,193.1 385.7,183.3 386.1,178.9 386.8,184.2 387.7,196.7 388.6,205.6 389.3,200.2 390.0,184.2 390.7,177.1 391.2,171.8 391.8,168.3 392.3,163.3 393.0,156.7 393.7,152.5 394.3,146.7 395.0,140.0 395.7,120.0 396.5,98.3" fill="none" stroke="#f2f2f2" stroke-width="1.9" stroke-linejoin="round" stroke-linecap="round"/>
<line x1="750.5" y1="66" x2="750.5" y2="428.3" stroke="#cfcfcf" stroke-width="1"/>
<line x1="0" y1="428.3" x2="750.5" y2="428.3" stroke="#cfcfcf" stroke-width="1"/>
<line x1="22.4" y1="428.3" x2="22.4" y2="429.90000000000003" stroke="#bdbdbd" stroke-width="0.8"/>
<line x1="31.0" y1="428.3" x2="31.0" y2="429.90000000000003" stroke="#bdbdbd" stroke-width="0.8"/>
<line x1="39.6" y1="428.3" x2="39.6" y2="429.90000000000003" stroke="#bdbdbd" stroke-width="0.8"/>
<line x1="48.1" y1="428.3" x2="48.1" y2="429.90000000000003" stroke="#bdbdbd" stroke-width="0.8"/>
<line x1="56.7" y1="428.3" x2="56.7" y2="429.90000000000003" stroke="#bdbdbd" stroke-width="0.8"/>
<line x1="65.3" y1="428.3" x2="65.3" y2="429.90000000000003" stroke="#bdbdbd" stroke-width="0.8"/>
<line x1="73.9" y1="428.3" x2="73.9" y2="429.90000000000003" stroke="#bdbdbd" stroke-width="0.8"/>
<line x1="82.5" y1="428.3" x2="82.5" y2="429.90000000000003" stroke="#bdbdbd" stroke-width="0.8"/>
<line x1="91.1" y1="428.3" x2="91.1" y2="429.90000000000003" stroke="#bdbdbd" stroke-width="0.8"/>
<line x1="99.7" y1="428.3" x2="99.7" y2="429.90000000000003" stroke="#bdbdbd" stroke-width="0.8"/>
<line x1="108.2" y1="428.3" x2="108.2" y2="429.90000000000003" stroke="#bdbdbd" stroke-width="0.8"/>
<line x1="116.8" y1="428.3" x2="116.8" y2="429.90000000000003" stroke="#bdbdbd" stroke-width="0.8"/>
<line x1="125.4" y1="428.3" x2="125.4" y2="429.90000000000003" stroke="#bdbdbd" stroke-width="0.8"/>
<line x1="134.0" y1="428.3" x2="134.0" y2="429.90000000000003" stroke="#bdbdbd" stroke-width="0.8"/>
<line x1="142.5" y1="428.3" x2="142.5" y2="429.90000000000003" stroke="#bdbdbd" stroke-width="0.8"/>
<line x1="151.1" y1="428.3" x2="151.1" y2="429.90000000000003" stroke="#bdbdbd" stroke-width="0.8"/>
<line x1="159.6" y1="428.3" x2="159.6" y2="429.90000000000003" stroke="#bdbdbd" stroke-width="0.8"/>
<line x1="168.2" y1="428.3" x2="168.2" y2="429.90000000000003" stroke="#bdbdbd" stroke-width="0.8"/>
<line x1="176.7" y1="428.3" x2="176.7" y2="429.90000000000003" stroke="#bdbdbd" stroke-width="0.8"/>
<line x1="185.2" y1="428.3" x2="185.2" y2="429.90000000000003" stroke="#bdbdbd" stroke-width="0.8"/>
<line x1="193.8" y1="428.3" x2="193.8" y2="429.90000000000003" stroke="#bdbdbd" stroke-width="0.8"/>
<line x1="202.4" y1="428.3" x2="202.4" y2="429.90000000000003" stroke="#bdbdbd" stroke-width="0.8"/>
<line x1="210.9" y1="428.3" x2="210.9" y2="429.90000000000003" stroke="#bdbdbd" stroke-width="0.8"/>
<line x1="219.4" y1="428.3" x2="219.4" y2="429.90000000000003" stroke="#bdbdbd" stroke-width="0.8"/>
<line x1="228.0" y1="428.3" x2="228.0" y2="429.90000000000003" stroke="#bdbdbd" stroke-width="0.8"/>
<line x1="236.6" y1="428.3" x2="236.6" y2="429.90000000000003" stroke="#bdbdbd" stroke-width="0.8"/>
<line x1="245.2" y1="428.3" x2="245.2" y2="429.90000000000003" stroke="#bdbdbd" stroke-width="0.8"/>
<line x1="253.9" y1="428.3" x2="253.9" y2="429.90000000000003" stroke="#bdbdbd" stroke-width="0.8"/>
<line x1="262.5" y1="428.3" x2="262.5" y2="429.90000000000003" stroke="#bdbdbd" stroke-width="0.8"/>
<line x1="271.1" y1="428.3" x2="271.1" y2="429.90000000000003" stroke="#bdbdbd" stroke-width="0.8"/>
<line x1="279.8" y1="428.3" x2="279.8" y2="429.90000000000003" stroke="#bdbdbd" stroke-width="0.8"/>
<line x1="288.4" y1="428.3" x2="288.4" y2="429.90000000000003" stroke="#bdbdbd" stroke-width="0.8"/>
<line x1="297.0" y1="428.3" x2="297.0" y2="429.90000000000003" stroke="#bdbdbd" stroke-width="0.8"/>
<line x1="305.6" y1="428.3" x2="305.6" y2="429.90000000000003" stroke="#bdbdbd" stroke-width="0.8"/>
<line x1="314.2" y1="428.3" x2="314.2" y2="429.90000000000003" stroke="#bdbdbd" stroke-width="0.8"/>
<line x1="322.9" y1="428.3" x2="322.9" y2="429.90000000000003" stroke="#bdbdbd" stroke-width="0.8"/>
<line x1="331.5" y1="428.3" x2="331.5" y2="429.90000000000003" stroke="#bdbdbd" stroke-width="0.8"/>
<line x1="340.2" y1="428.3" x2="340.2" y2="429.90000000000003" stroke="#bdbdbd" stroke-width="0.8"/>
<line x1="348.9" y1="428.3" x2="348.9" y2="429.90000000000003" stroke="#bdbdbd" stroke-width="0.8"/>
<line x1="357.6" y1="428.3" x2="357.6" y2="429.90000000000003" stroke="#bdbdbd" stroke-width="0.8"/>
<line x1="366.3" y1="428.3" x2="366.3" y2="429.90000000000003" stroke="#bdbdbd" stroke-width="0.8"/>
<line x1="375.0" y1="428.3" x2="375.0" y2="429.90000000000003" stroke="#bdbdbd" stroke-width="0.8"/>
<line x1="383.6" y1="428.3" x2="383.6" y2="429.90000000000003" stroke="#bdbdbd" stroke-width="0.8"/>
<line x1="392.3" y1="428.3" x2="392.3" y2="429.90000000000003" stroke="#bdbdbd" stroke-width="0.8"/>
<line x1="401.0" y1="428.3" x2="401.0" y2="429.90000000000003" stroke="#bdbdbd" stroke-width="0.8"/>
<line x1="409.7" y1="428.3" x2="409.7" y2="429.90000000000003" stroke="#bdbdbd" stroke-width="0.8"/>
<line x1="418.4" y1="428.3" x2="418.4" y2="429.90000000000003" stroke="#bdbdbd" stroke-width="0.8"/>
<line x1="427.1" y1="428.3" x2="427.1" y2="429.90000000000003" stroke="#bdbdbd" stroke-width="0.8"/>
<line x1="435.8" y1="428.3" x2="435.8" y2="429.90000000000003" stroke="#bdbdbd" stroke-width="0.8"/>
<line x1="444.5" y1="428.3" x2="444.5" y2="429.90000000000003" stroke="#bdbdbd" stroke-width="0.8"/>
<line x1="453.2" y1="428.3" x2="453.2" y2="429.90000000000003" stroke="#bdbdbd" stroke-width="0.8"/>
<line x1="461.9" y1="428.3" x2="461.9" y2="429.90000000000003" stroke="#bdbdbd" stroke-width="0.8"/>
<line x1="470.6" y1="428.3" x2="470.6" y2="429.90000000000003" stroke="#bdbdbd" stroke-width="0.8"/>
<line x1="479.3" y1="428.3" x2="479.3" y2="429.90000000000003" stroke="#bdbdbd" stroke-width="0.8"/>
<line x1="488.0" y1="428.3" x2="488.0" y2="429.90000000000003" stroke="#bdbdbd" stroke-width="0.8"/>
<line x1="496.6" y1="428.3" x2="496.6" y2="429.90000000000003" stroke="#bdbdbd" stroke-width="0.8"/>
<line x1="505.3" y1="428.3" x2="505.3" y2="429.90000000000003" stroke="#bdbdbd" stroke-width="0.8"/>
<line x1="514.0" y1="428.3" x2="514.0" y2="429.90000000000003" stroke="#bdbdbd" stroke-width="0.8"/>
<line x1="522.7" y1="428.3" x2="522.7" y2="429.90000000000003" stroke="#bdbdbd" stroke-width="0.8"/>
<line x1="531.4" y1="428.3" x2="531.4" y2="429.90000000000003" stroke="#bdbdbd" stroke-width="0.8"/>
<line x1="540.1" y1="428.3" x2="540.1" y2="429.90000000000003" stroke="#bdbdbd" stroke-width="0.8"/>
<line x1="548.8" y1="428.3" x2="548.8" y2="429.90000000000003" stroke="#bdbdbd" stroke-width="0.8"/>
<line x1="557.6" y1="428.3" x2="557.6" y2="429.90000000000003" stroke="#bdbdbd" stroke-width="0.8"/>
<line x1="566.3" y1="428.3" x2="566.3" y2="429.90000000000003" stroke="#bdbdbd" stroke-width="0.8"/>
<line x1="575.0" y1="428.3" x2="575.0" y2="429.90000000000003" stroke="#bdbdbd" stroke-width="0.8"/>
<line x1="583.8" y1="428.3" x2="583.8" y2="429.90000000000003" stroke="#bdbdbd" stroke-width="0.8"/>
<line x1="592.5" y1="428.3" x2="592.5" y2="429.90000000000003" stroke="#bdbdbd" stroke-width="0.8"/>
<line x1="601.2" y1="428.3" x2="601.2" y2="429.90000000000003" stroke="#bdbdbd" stroke-width="0.8"/>
<line x1="610.0" y1="428.3" x2="610.0" y2="429.90000000000003" stroke="#bdbdbd" stroke-width="0.8"/>
<line x1="618.7" y1="428.3" x2="618.7" y2="429.90000000000003" stroke="#bdbdbd" stroke-width="0.8"/>
<line x1="627.4" y1="428.3" x2="627.4" y2="429.90000000000003" stroke="#bdbdbd" stroke-width="0.8"/>
<line x1="636.2" y1="428.3" x2="636.2" y2="429.90000000000003" stroke="#bdbdbd" stroke-width="0.8"/>
<line x1="644.9" y1="428.3" x2="644.9" y2="429.90000000000003" stroke="#bdbdbd" stroke-width="0.8"/>
<line x1="653.7" y1="428.3" x2="653.7" y2="429.90000000000003" stroke="#bdbdbd" stroke-width="0.8"/>
<line x1="662.5" y1="428.3" x2="662.5" y2="429.90000000000003" stroke="#bdbdbd" stroke-width="0.8"/>
<line x1="671.3" y1="428.3" x2="671.3" y2="429.90000000000003" stroke="#bdbdbd" stroke-width="0.8"/>
<line x1="680.1" y1="428.3" x2="680.1" y2="429.90000000000003" stroke="#bdbdbd" stroke-width="0.8"/>
<line x1="688.9" y1="428.3" x2="688.9" y2="429.90000000000003" stroke="#bdbdbd" stroke-width="0.8"/>
<line x1="697.7" y1="428.3" x2="697.7" y2="429.90000000000003" stroke="#bdbdbd" stroke-width="0.8"/>
<line x1="706.5" y1="428.3" x2="706.5" y2="429.90000000000003" stroke="#bdbdbd" stroke-width="0.8"/>
<line x1="715.3" y1="428.3" x2="715.3" y2="429.90000000000003" stroke="#bdbdbd" stroke-width="0.8"/>
<line x1="724.1" y1="428.3" x2="724.1" y2="429.90000000000003" stroke="#bdbdbd" stroke-width="0.8"/>
<line x1="732.9" y1="428.3" x2="732.9" y2="429.90000000000003" stroke="#bdbdbd" stroke-width="0.8"/>
<line x1="741.7" y1="428.3" x2="741.7" y2="429.90000000000003" stroke="#bdbdbd" stroke-width="0.8"/>
<line x1="13.8" y1="428.3" x2="13.8" y2="429.90000000000003" stroke="#bdbdbd" stroke-width="0.8"/>
<line x1="5.2" y1="428.3" x2="5.2" y2="429.90000000000003" stroke="#bdbdbd" stroke-width="0.8"/>
<line x1="22.4" y1="435" x2="22.4" y2="445" stroke="#464646" stroke-width="0.9"/>
<line x1="125.4" y1="435" x2="125.4" y2="445" stroke="#464646" stroke-width="0.9"/>
<line x1="228" y1="435" x2="228" y2="445" stroke="#464646" stroke-width="0.9"/>
<line x1="331.5" y1="435" x2="331.5" y2="445" stroke="#464646" stroke-width="0.9"/>
<line x1="435.8" y1="435" x2="435.8" y2="445" stroke="#464646" stroke-width="0.9"/>
<line x1="540.1" y1="435" x2="540.1" y2="445" stroke="#464646" stroke-width="0.9"/>
<line x1="644.9" y1="435" x2="644.9" y2="445" stroke="#464646" stroke-width="0.9"/>
<line x1="750.5" y1="435" x2="750.5" y2="445" stroke="#464646" stroke-width="0.9"/>
<text x="4.0" y="443.8" textLength="14.4" lengthAdjust="spacingAndGlyphs" fill="#bdbdbd" font-size="8.2" font-family="&quot;Liberation Serif&quot;, serif" font-weight="normal" stroke="#bdbdbd" stroke-width="0.3">2018</text>
<text x="66.7" y="443.8" textLength="14.4" lengthAdjust="spacingAndGlyphs" fill="#bdbdbd" font-size="8.2" font-family="&quot;Liberation Serif&quot;, serif" font-weight="normal" stroke="#bdbdbd" stroke-width="0.3">2019</text>
<text x="169.5" y="443.8" textLength="14.4" lengthAdjust="spacingAndGlyphs" fill="#bdbdbd" font-size="8.2" font-family="&quot;Liberation Serif&quot;, serif" font-weight="normal" stroke="#bdbdbd" stroke-width="0.3">2020</text>
<text x="272.6" y="443.8" textLength="14.4" lengthAdjust="spacingAndGlyphs" fill="#bdbdbd" font-size="8.2" font-family="&quot;Liberation Serif&quot;, serif" font-weight="normal" stroke="#bdbdbd" stroke-width="0.3">2021</text>
<text x="376.4" y="443.8" textLength="14.4" lengthAdjust="spacingAndGlyphs" fill="#bdbdbd" font-size="8.2" font-family="&quot;Liberation Serif&quot;, serif" font-weight="normal" stroke="#bdbdbd" stroke-width="0.3">2022</text>
<text x="480.8" y="443.8" textLength="14.4" lengthAdjust="spacingAndGlyphs" fill="#bdbdbd" font-size="8.2" font-family="&quot;Liberation Serif&quot;, serif" font-weight="normal" stroke="#bdbdbd" stroke-width="0.3">2023</text>
<text x="585.3" y="443.8" textLength="14.4" lengthAdjust="spacingAndGlyphs" fill="#bdbdbd" font-size="8.2" font-family="&quot;Liberation Serif&quot;, serif" font-weight="normal" stroke="#bdbdbd" stroke-width="0.3">2024</text>
<text x="690.5" y="443.8" textLength="14.4" lengthAdjust="spacingAndGlyphs" fill="#bdbdbd" font-size="8.2" font-family="&quot;Liberation Serif&quot;, serif" font-weight="normal" stroke="#bdbdbd" stroke-width="0.3">2025</text>
<path d="M750.5 156.8 L754.3 158.4 L750.5 160.0 Z" fill="#e8e8e8"/>
<text x="755.0" y="161.0" textLength="10.8" lengthAdjust="spacingAndGlyphs" fill="#d0d0d0" font-size="7.6" font-family="&quot;Liberation Serif&quot;, serif" font-weight="normal" stroke="#d0d0d0" stroke-width="0.3">400</text>
<path d="M750.5 223.2 L754.3 224.8 L750.5 226.4 Z" fill="#e8e8e8"/>
<text x="755.0" y="227.4" textLength="10.8" lengthAdjust="spacingAndGlyphs" fill="#d0d0d0" font-size="7.6" font-family="&quot;Liberation Serif&quot;, serif" font-weight="normal" stroke="#d0d0d0" stroke-width="0.3">300</text>
<path d="M750.5 289.6 L754.3 291.2 L750.5 292.9 Z" fill="#e8e8e8"/>
<text x="755.0" y="293.9" textLength="10.8" lengthAdjust="spacingAndGlyphs" fill="#d0d0d0" font-size="7.6" font-family="&quot;Liberation Serif&quot;, serif" font-weight="normal" stroke="#d0d0d0" stroke-width="0.3">200</text>
<path d="M750.5 356.1 L754.3 357.7 L750.5 359.3 Z" fill="#e8e8e8"/>
<text x="755.0" y="360.3" textLength="10.8" lengthAdjust="spacingAndGlyphs" fill="#d0d0d0" font-size="7.6" font-family="&quot;Liberation Serif&quot;, serif" font-weight="normal" stroke="#d0d0d0" stroke-width="0.3">100</text>
<path d="M750.5 422.5 L754.3 424.1 L750.5 425.7 Z" fill="#e8e8e8"/>
<text x="755.0" y="426.7" textLength="3.6" lengthAdjust="spacingAndGlyphs" fill="#d0d0d0" font-size="7.6" font-family="&quot;Liberation Serif&quot;, serif" font-weight="normal" stroke="#d0d0d0" stroke-width="0.3">0</text>
<line x1="750.5" y1="125.2" x2="752.0" y2="125.2" stroke="#bdbdbd" stroke-width="0.8"/>
<line x1="750.5" y1="191.6" x2="752.0" y2="191.6" stroke="#bdbdbd" stroke-width="0.8"/>
<line x1="750.5" y1="258.0" x2="752.0" y2="258.0" stroke="#bdbdbd" stroke-width="0.8"/>
<line x1="750.5" y1="324.5" x2="752.0" y2="324.5" stroke="#bdbdbd" stroke-width="0.8"/>
<line x1="750.5" y1="390.9" x2="752.0" y2="390.9" stroke="#bdbdbd" stroke-width="0.8"/>
<path d="M750.5 90.4 L754.3 92.0 L750.5 93.6 Z" fill="#e8e8e8"/>
<text x="755.0" y="94.6" textLength="10.8" lengthAdjust="spacingAndGlyphs" fill="#d0d0d0" font-size="7.6" font-family="&quot;Liberation Serif&quot;, serif" font-weight="normal" stroke="#d0d0d0" stroke-width="0.3">500</text>
<path d="M751 97.7 L755.3 92.9 L768 92.9 L768 102.9 L755.3 102.9 Z" fill="#f4f4f4"/>
<text x="755.8" y="100.5" textLength="22.2" lengthAdjust="spacingAndGlyphs" fill="#333" font-size="7.4" font-family="&quot;Liberation Sans&quot;, Arial, sans-serif" font-weight="normal" stroke="#333" stroke-width="0.3">490.00</text>
<rect x="0" y="447.6" width="768" height="2.4" fill="#271d20"/>
<rect x="7" y="73" width="5.6" height="6" fill="#f6f6f6"/>
<rect x="14" y="72" width="100.5" height="8" fill="#f6f6f6"/>
<text x="15.0" y="78.6" textLength="98.5" lengthAdjust="spacingAndGlyphs" fill="#5c5c5c" font-size="7.6" font-family="&quot;Liberation Sans&quot;, Arial, sans-serif" font-weight="normal">ELGBYR1 OECM Index - Mid Price</text>
<text x="116.8" y="78.6" textLength="18.7" lengthAdjust="spacingAndGlyphs" fill="#e0e0e0" font-size="7.6" font-family="&quot;Liberation Sans&quot;, Arial, sans-serif" font-weight="normal" stroke="#e0e0e0" stroke-width="0.3">490.00</text>
<rect x="315.8" y="67.6" width="137.1" height="10.1" fill="#121212"/>
<path d="M321 72.6 L325 72.6 M323 70.6 L323 74.6" stroke="#777" stroke-width="0.8"/>
<text x="330.9" y="75.4" textLength="15.5" lengthAdjust="spacingAndGlyphs" fill="#bdbdbd" font-size="7.4" font-family="&quot;Liberation Sans&quot;, Arial, sans-serif" font-weight="normal" stroke="#bdbdbd" stroke-width="0.3">Track</text>
<path d="M354.3 75 L357.8 70.6" stroke="#888" stroke-width="0.9"/>
<text x="362.8" y="75.4" textLength="25.0" lengthAdjust="spacingAndGlyphs" fill="#bdbdbd" font-size="7.4" font-family="&quot;Liberation Sans&quot;, Arial, sans-serif" font-weight="normal" stroke="#bdbdbd" stroke-width="0.3">Annotate</text>
<rect x="394.6" y="70.4" width="3.6" height="4.2" fill="none" stroke="#888" stroke-width="0.6"/>
<text x="404.0" y="75.4" textLength="14.0" lengthAdjust="spacingAndGlyphs" fill="#bdbdbd" font-size="7.4" font-family="&quot;Liberation Sans&quot;, Arial, sans-serif" font-weight="normal" stroke="#bdbdbd" stroke-width="0.3">News</text>
<circle cx="427.2" cy="71.8" r="1.7" fill="none" stroke="#888" stroke-width="0.7"/><path d="M428.4 73 L430.4 75" stroke="#888" stroke-width="0.8"/>
<text x="435.2" y="75.4" textLength="14.6" lengthAdjust="spacingAndGlyphs" fill="#bdbdbd" font-size="7.4" font-family="&quot;Liberation Sans&quot;, Arial, sans-serif" font-weight="normal" stroke="#bdbdbd" stroke-width="0.3">Zoom</text>
<rect x="421.7" y="78" width="31.2" height="9.4" fill="#2a2a2a"/>
<circle cx="427.4" cy="82.7" r="2" fill="none" stroke="#f0f0f0" stroke-width="1.3"/>
<text x="434.7" y="85.6" textLength="15.6" lengthAdjust="spacingAndGlyphs" fill="#bdbdbd" font-size="7.4" font-family="&quot;Liberation Sans&quot;, Arial, sans-serif" font-weight="normal" stroke="#bdbdbd" stroke-width="0.3">Reset</text>
</svg>
</body></html>
